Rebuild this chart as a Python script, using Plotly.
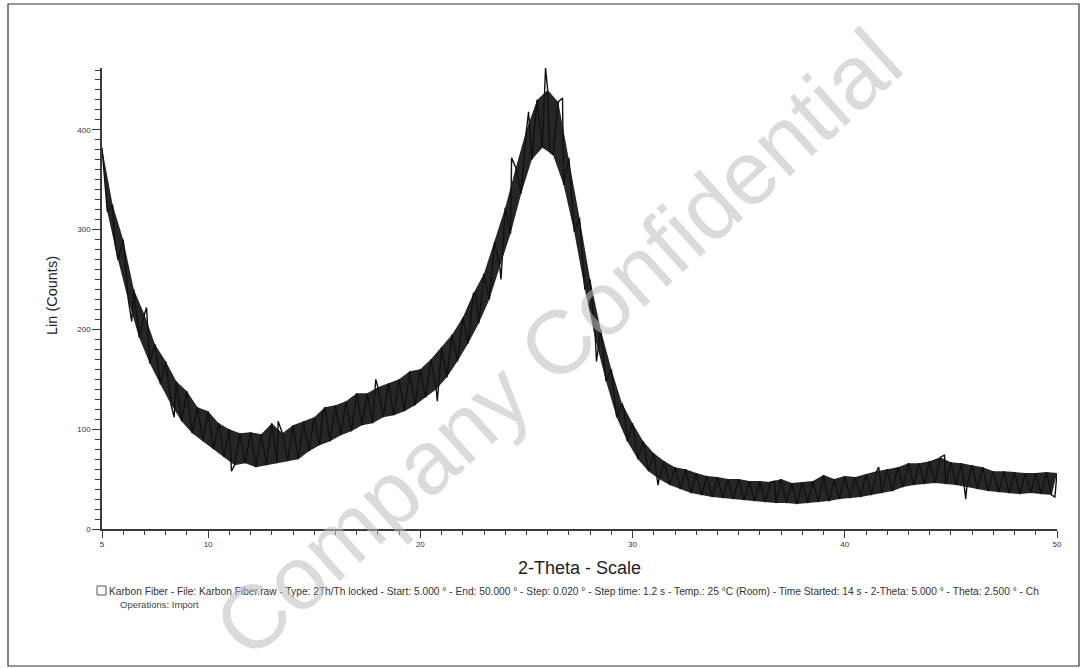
import numpy as np
import plotly.graph_objects as go

# ---- data (local maxima / minima of the noisy trace) ----
hi_start, step = 5.0, 0.5
hi_counts = [382, 325, 290, 240, 215, 185, 168, 148, 138, 122,
             118, 106, 100, 96, 97, 95, 106, 96, 104, 108,
             112, 122, 124, 128, 136, 136, 142, 146, 150, 158,
             160, 170, 182, 195, 212, 236, 256, 288, 322, 362,
             400, 430, 440, 428, 372, 312, 250, 200, 160, 126,
             106, 88, 76, 68, 62, 60, 56, 53, 52, 50,
             50, 48, 48, 47, 50, 46, 47, 48, 54, 50,
             53, 52, 55, 58, 60, 62, 66, 66, 68, 72,
             67, 66, 64, 62, 58, 58, 57, 56, 56, 57, 56]
lo_start = 5.25
lo_counts = [318, 270, 228, 192, 166, 145, 125, 108, 96, 88,
             80, 72, 64, 66, 62, 64, 66, 68, 70, 78,
             84, 88, 94, 98, 104, 106, 112, 114, 118, 124,
             132, 140, 152, 168, 186, 206, 230, 262, 296, 336,
             370, 382, 375, 345, 298, 240, 190, 148, 112, 88,
             70, 58, 50, 44, 40, 36, 34, 32, 31, 30,
             29, 28, 27, 26, 26, 25, 26, 27, 28, 30,
             31, 32, 34, 36, 38, 42, 44, 45, 46, 45,
             44, 42, 40, 38, 37, 36, 35, 36, 35, 34]
# isolated spikes visible in the trace
spike_x = [5.6, 6.4, 7.1, 8.4, 11.1, 13.3, 15.4, 17.9, 20.8, 22.6, 23.8, 24.3,
           25.1, 25.9, 26.1, 26.7, 28.3, 29.6, 31.2, 36.7, 39.3, 41.6, 44.7, 45.7, 49.9]
spike_counts = [288, 208, 222, 112, 58, 108, 116, 150, 128, 236, 250, 372,
                418, 462, 378, 432, 168, 120, 44, 48, 30, 62, 74, 30, 32]

x_tick_vals = [5, 10, 20, 30, 40, 50]
y_tick_vals = [0, 100, 200, 300, 400]

legend_line1 = ("Karbon Fiber - File: Karbon Fiber.raw - Type: 2Th/Th locked - Start: 5.000 \u00b0 - "
                "End: 50.000 \u00b0 - Step: 0.020 \u00b0 - Step time: 1.2 s - Temp.: 25 \u00b0C (Room) - "
                "Time Started: 14 s - 2-Theta: 5.000 \u00b0 - Theta: 2.500 \u00b0 - Ch")
legend_line2 = "Operations: Import"

# ---- build the trace ----
hi_x = hi_start + step * np.arange(len(hi_counts))
lo_x = lo_start + step * np.arange(len(lo_counts))
xs = np.concatenate([hi_x, lo_x, spike_x])
ys = np.concatenate([hi_counts, lo_counts, spike_counts])
order = np.argsort(xs, kind="stable")
zx, zy = xs[order], ys[order]

fig = go.Figure()
fig.add_trace(go.Scatter(
    x=np.concatenate([hi_x, lo_x[::-1]]),
    y=np.concatenate([hi_counts, lo_counts[::-1]]),
    fill="toself", fillcolor="#262626", line=dict(width=0),
    mode="lines", hoverinfo="skip", showlegend=False))
fig.add_trace(go.Scatter(x=zx, y=zy, mode="lines",
                         line=dict(color="#111111", width=1.4),
                         showlegend=False))

axis_col = "#3a3a3a"
fig.update_xaxes(range=[5, 50], tickvals=x_tick_vals, ticktext=[str(v) for v in x_tick_vals],
                 showgrid=False, zeroline=False, showline=True, linecolor=axis_col, linewidth=1.5,
                 ticks="outside", ticklen=7, tickcolor=axis_col, tickwidth=1,
                 tickfont=dict(family="Liberation Sans", size=8, color="#333"),
                 minor=dict(dtick=1, ticks="outside", ticklen=4, tickcolor=axis_col, showgrid=False))
fig.update_yaxes(range=[0, 462], tickvals=y_tick_vals, ticktext=[str(v) for v in y_tick_vals],
                 showgrid=False, zeroline=False, showline=True, linecolor=axis_col, linewidth=1.5,
                 ticks="outside", ticklen=8, tickcolor=axis_col, tickwidth=1,
                 tickfont=dict(family="Liberation Sans", size=8, color="#333"),
                 minor=dict(dtick=10, ticks="outside", ticklen=5, tickcolor=axis_col, showgrid=False))

W, H = 1082, 668
L, R, T, B = 102, 1082 - 1057, 68, 668 - 529
pw, ph = W - L - R, H - T - B

def px(x):
    return (x - L) / pw

def py(y):
    return (T + ph - y) / ph

annotations = [
    dict(text="2-Theta - Scale", x=px(579), y=py(568), xref="paper", yref="paper",
         showarrow=False, font=dict(family="Liberation Sans", size=18, color="#222"),
         xanchor="center", yanchor="middle"),
    dict(text="Lin (Counts)", x=px(52), y=py(296), xref="paper", yref="paper",
         showarrow=False, textangle=-90, font=dict(family="Liberation Sans", size=14.5, color="#222"),
         xanchor="center", yanchor="middle"),
    dict(text=legend_line1, x=px(107), y=py(591), xref="paper", yref="paper",
         showarrow=False, font=dict(family="Liberation Sans", size=10.2, color="#333"),
         xanchor="left", yanchor="middle"),
    dict(text=legend_line2, x=px(118), y=py(604), xref="paper", yref="paper",
         showarrow=False, font=dict(family="Liberation Sans", size=9.5, color="#444"),
         xanchor="left", yanchor="middle"),
    dict(text="Company Confidential", x=px(558), y=py(343), xref="paper", yref="paper",
         showarrow=False, textangle=-42,
         font=dict(family="Liberation Sans", size=90, color="rgba(190,190,190,0.55)"),
         xanchor="center", yanchor="middle"),
]

shapes = [
    dict(type="rect", xref="paper", yref="paper", x0=px(8), x1=px(1079), y0=py(4), y1=py(666),
         line=dict(color="#333", width=1.2)),
    dict(type="rect", xref="paper", yref="paper", x0=px(97), x1=px(106), y0=py(586), y1=py(595),
         line=dict(color="#555", width=1)),
]

fig.update_layout(width=W, height=H, margin=dict(l=L, r=R, t=T, b=B),
                  paper_bgcolor="white", plot_bgcolor="white",
                  annotations=annotations, shapes=shapes, showlegend=False)

fig.write_html("out.html", config={"displayModeBar": False},
               post_script="document.body.style.margin='0px';document.body.style.overflow='hidden';")
